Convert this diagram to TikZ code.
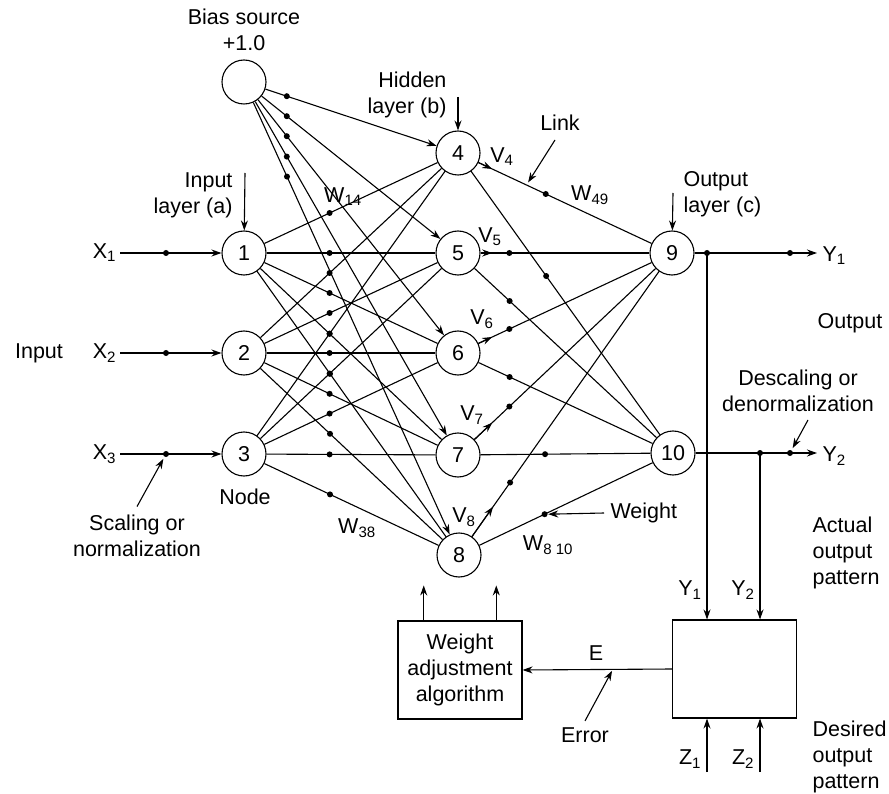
\documentclass[tikz,border=0pt]{standalone}
\usepackage{fontspec}
\setmainfont{Liberation Sans}
\usetikzlibrary{arrows.meta,calc}
\begin{document}
\begin{tikzpicture}[x=1pt,y=-1pt,line width=1.1pt,
  every node/.style={font=\fontsize{21.5}{26}\selectfont},
  neuron/.style={circle,draw,minimum size=44pt,inner sep=0pt},
  tip/.style={-{Stealth[length=10pt,width=7pt]}},
  dot/.style={circle,fill,inner sep=0pt,minimum size=6pt},
  txt/.style={inner sep=0pt},
  block/.style={draw,minimum width=124pt,minimum height=98pt,inner sep=0pt}]
\useasboundingbox (0,0) rectangle (889,794);

% neurons
\node[neuron] (b)   at (244,82)  {};
\node[neuron] (n1)  at (244,253) {1};
\node[neuron] (n2)  at (244,353) {2};
\node[neuron] (n3)  at (244,454) {3};
\node[neuron] (n4)  at (458,153) {4};
\node[neuron] (n5)  at (458,253) {5};
\node[neuron] (n6)  at (458,353) {6};
\node[neuron] (n7)  at (458,455) {7};
\node[neuron] (n8)  at (459,555) {8};
\node[neuron] (n9)  at (672,253) {9};
\node[neuron] (n10) at (673,453) {10};

% bias links
\foreach \h in {4,...,8}{
  \draw[tip] (b) -- (n\h);
  \node[dot] at ($(b)!0.2!(n\h)$) {};
}
% input-to-hidden links
\foreach \i in {1,2,3}{
  \foreach \h in {4,...,8}{
    \draw (n\i) -- (n\h);
    \node[dot] at ($(n\i)!0.4!(n\h)$) {};
  }
}
% hidden-to-output links
\foreach \h/\fa/\fb in {4/0.41/0.41,5/0.24/0.24,6/0.24/0.24,7/0.24/0.405,8/0.24/0.40}{
  \draw (n\h) -- (n9);
  \draw[tip] (n\h) -- ($(n\h)!0.16!(n9)$);
  \node[dot] at ($(n\h)!\fa!(n9)$) {};
  \draw (n\h) -- (n10);
  \node[dot] (d\h) at ($(n\h)!\fb!(n10)$) {};
}

% inputs
\foreach \k in {1,2,3}{
  \node[anchor=east] (x\k) at ($(n\k)+(-124,0)$) {X\textsubscript{\k}};
  \draw[tip] (x\k.east |- n\k) -- (n\k);
  \node[dot] (s\k) at ($(n\k)+(-78,0)$) {};
}
\node[txt] (inp) at (39,353) {Input};

% layer captions
\node[txt] (bs) at (244,30) [align=center] {Bias source\\+1.0};
\node[txt,anchor=east,align=right] (la) at (233,195) {Input\\layer (a)};
\coordinate (pa) at (245,173);
\draw[tip] (pa) -- (n1);
\node[txt,anchor=east,align=right] (lb) at (447,95) {Hidden\\layer (b)};
\coordinate (pb) at (458,97);
\draw[tip] (pb) -- (n4);
\node[txt,anchor=west,align=left] (lc) at (683,194) {Output\\layer (c)};
\coordinate (pc) at (673,193);
\draw[tip] (pc) -- (n9);
\node[txt] (nd) at (245,497) {Node};

% scaling note
\node[txt,align=center] (sc) at (137,536) {Scaling or\\normalization};
\draw[tip,shorten >=2pt] ($(sc.north)+(0,-8)$) -- (s3);

% weight labels
\node[txt] at (343,197) {W\textsubscript{14}};
\node[txt] at (590,195) {W\textsubscript{49}};
\node[txt] at (357,528) {W\textsubscript{38}};
\node[txt] at (548,545) {W\textsubscript{8 10}};
\node[txt] at (502,157) {V\textsubscript{4}};
\node[txt] at (490,237) {V\textsubscript{5}};
\node[txt] at (482,319) {V\textsubscript{6}};
\node[txt] at (472,415) {V\textsubscript{7}};
\node[txt] at (464,517) {V\textsubscript{8}};

% link note
\node[txt] (lk) at (560,123) {Link};
\coordinate (lkp) at ($(n4)!0.32!(n9)$);
\draw[tip,shorten >=3pt] (555,140) -- (lkp);

% weight note
\node[txt,anchor=west] (wt) at (610,513) {Weight};
\draw[tip] ($(wt.west)+(-6,0)$) -- (d8.east);

% outputs
\coordinate (e1) at (817,253);
\coordinate (e2) at (817,453);
\draw[tip] (n9) -- (e1);
\draw[tip] (n10) -- (e2);
\node[dot] (j1) at (707,253) {};
\node[dot] (q1) at (790,253) {};
\node[dot] (j2) at (760,453) {};
\node[dot] (q2) at (790,453) {};
\node[txt,anchor=west] at (822,256) {Y\textsubscript{1}};
\node[txt,anchor=west] at (822,456) {Y\textsubscript{2}};
\node[txt] at (850,323) {Output};
\node[txt,align=center] (dn) at (798,391) {Descaling or\\denormalization};
\draw[tip,shorten >=2pt] (808,420) -- (q2);

% comparison block
\node[block] (cmp) at (734.5,669) {};
\draw[tip] (j1.center) -- (j1 |- cmp.north);
\draw[tip] (j2.center) -- (j2 |- cmp.north);
\node[txt] at (690,590) {Y\textsubscript{1}};
\node[txt] at (743,590) {Y\textsubscript{2}};
\coordinate (z1) at (707,772);
\coordinate (z2) at (760,772);
\draw[tip] (z1) -- (z1 |- cmp.south);
\draw[tip] (z2) -- (z2 |- cmp.south);
\node[txt] at (690,759) {Z\textsubscript{1}};
\node[txt] at (743,759) {Z\textsubscript{2}};
\node[txt,anchor=west,align=left] at (812,553) {Actual\\output\\pattern};
\node[txt,anchor=west,align=left] at (812,757) {Desired\\output\\pattern};

% weight adjustment block
\node[block,align=center] (wa) at (460,670) {Weight\\adjustment\\algorithm};
\draw[tip] ($(wa.north west)!0.21!(wa.north east)$) -- ++(0,-35);
\draw[tip] ($(wa.north west)!0.79!(wa.north east)$) -- ++(0,-35);
\draw[tip] (cmp.west) -- (wa.east);
\node[txt] at (596,653) {E};
\node[txt] (er) at (585,735) {Error};
\coordinate (ep) at (613,669);
\draw[tip,shorten >=2pt] ($(er.north)+(0,-6)$) -- (ep);
\end{tikzpicture}
\end{document}
